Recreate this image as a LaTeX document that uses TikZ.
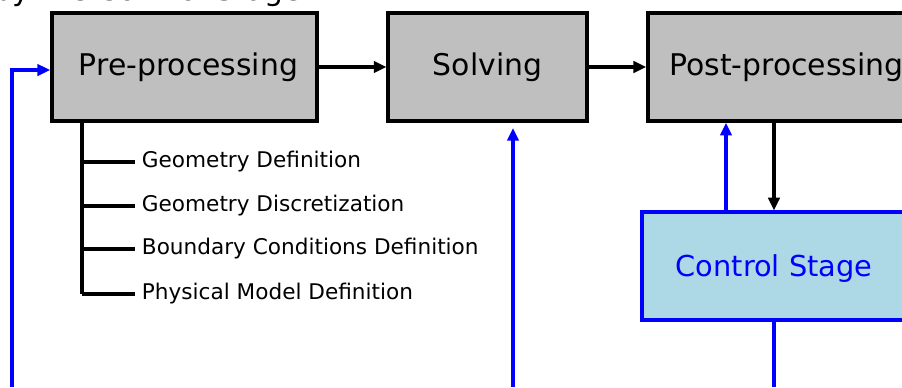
\documentclass[tikz,border=0pt]{standalone}
\usepackage{fontspec}
\setmainfont{DejaVu Sans}
\usetikzlibrary{positioning, arrows.meta}

\begin{document}
\begin{tikzpicture}[
    x=0.75pt, y=-0.75pt,
    stage/.style={rectangle, draw=black, line width=2.6pt, fill=black!25,
                  minimum height=81pt, inner sep=0pt, font=\fontsize{22.4}{26}\selectfont},
    ctrlbox/.style={rectangle, draw=blue, line width=2.4pt, fill=lightblue,
                  minimum height=81pt, inner sep=0pt, text depth=0pt, text=blue,
                  font=\fontsize{21.6}{26}\selectfont},
    item/.style={anchor=west, inner sep=5pt, font=\fontsize{16.2}{18}\selectfont},
    tree/.style={line width=2.4pt},
    arrow/.style={-{Triangle[length=9.5pt, width=8.5pt]}, line width=2.4pt},
    fback/.style={-{Triangle[length=9.5pt, width=8.5pt]}, line width=2.3pt, draw=blue}
]
    \definecolor{lightblue}{HTML}{ADD8E6}
    \useasboundingbox (0,0) rectangle (902,387);
    \clip (0,0) rectangle (902,387);

    % Caption above, cut by the frame
    \node[anchor=base east, inner sep=0pt, font=\fontsize{22.4}{26}\selectfont] (cap) at (302,0.5) {by the Control Stage};

    % Stages
    \node[stage, minimum width=199pt] (pre) at (184.5,67) {\hspace{6pt}Pre-processing};
    \node[stage, minimum width=149pt] (solve) at (487.5,67) {Solving};
    \node[stage, minimum width=208pt] (post) at (786.5,67) {Post-processing};
    \node[ctrlbox, minimum width=198pt] (ctrl) at (774,266) {Control Stage};

    % Main flow
    \draw[arrow] (pre) -- (solve);
    \draw[arrow] (solve) -- (post);
    \draw[arrow] (ctrl.north |- post.south) -- (ctrl.north);

    % Pre-processing tasks
    \coordinate (tr) at (82,121);
    \node[item] (g1) at (135,162) {Geometry Definition};
    \node[item] (g2) at (135,206) {Geometry Discretization};
    \node[item] (g3) at (135,249) {Boundary Conditions Definition};
    \node[item] (g4) at (135,294) {Physical Model Definition};
    \draw[tree] (tr) -- (tr |- g4.west);
    \foreach \g in {g1,g2,g3,g4}
        \draw[tree] (tr |- \g.west) -- (\g.west);

    % Feedback from the Control Stage
    \coordinate (fbL) at (12,387);
    \coordinate (fbS) at (513,387);
    \coordinate (fbP) at (726,212);
    \coordinate (fbC) at (774,387);
    \draw[fback] (fbL) |- ([yshift=-2.25pt]pre.west);
    \draw[fback, shorten >=4pt] (fbS) -- (fbS |- solve.south);
    \draw[fback] (fbP) -- (fbP |- post.south);
    \draw[blue, line width=2.3pt] (ctrl.south) -- (fbC);
\end{tikzpicture}
\end{document}
